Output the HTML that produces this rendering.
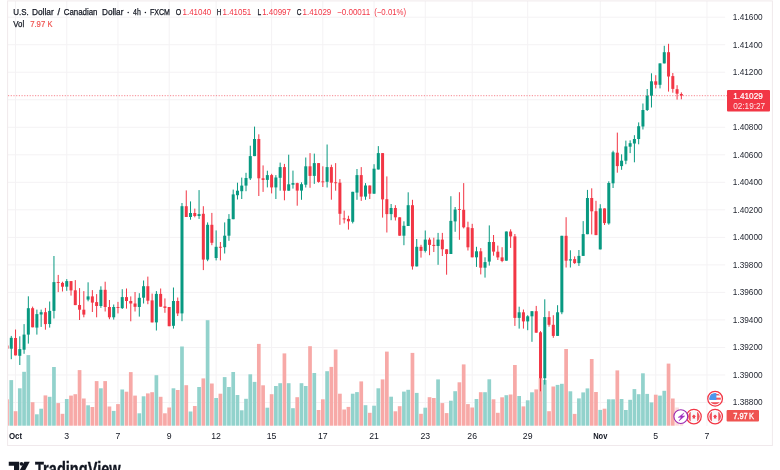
<!DOCTYPE html>
<html><head><meta charset="utf-8"><title>USDCAD</title>
<style>html,body{margin:0;padding:0;background:#fff;}body{width:780px;height:470px;overflow:hidden;}svg{display:block;will-change:transform;}text{font-family:"Liberation Sans",sans-serif;}</style>
</head><body>
<svg width="780" height="470" viewBox="0 0 780 470">
<rect x="0" y="0" width="780" height="470" fill="#ffffff"/>
<defs><clipPath id="pane"><rect x="8" y="1" width="719" height="425"/></clipPath></defs>
<g stroke="#f4f2f4" stroke-width="1" fill="none">
<line x1="8" y1="17.2" x2="725.2" y2="17.2"/>
<line x1="8" y1="44.72" x2="725.2" y2="44.72"/>
<line x1="8" y1="72.24" x2="725.2" y2="72.24"/>
<line x1="8" y1="99.76" x2="725.2" y2="99.76"/>
<line x1="8" y1="127.28" x2="725.2" y2="127.28"/>
<line x1="8" y1="154.8" x2="725.2" y2="154.8"/>
<line x1="8" y1="182.32" x2="725.2" y2="182.32"/>
<line x1="8" y1="209.84" x2="725.2" y2="209.84"/>
<line x1="8" y1="237.36" x2="725.2" y2="237.36"/>
<line x1="8" y1="264.88" x2="725.2" y2="264.88"/>
<line x1="8" y1="292.4" x2="725.2" y2="292.4"/>
<line x1="8" y1="319.92" x2="725.2" y2="319.92"/>
<line x1="8" y1="347.44" x2="725.2" y2="347.44"/>
<line x1="8" y1="374.96" x2="725.2" y2="374.96"/>
<line x1="8" y1="402.48" x2="725.2" y2="402.48"/>
<line x1="15.54" y1="1" x2="15.54" y2="426"/>
<line x1="66.75" y1="1" x2="66.75" y2="426"/>
<line x1="117.97" y1="1" x2="117.97" y2="426"/>
<line x1="169.18" y1="1" x2="169.18" y2="426"/>
<line x1="216.13" y1="1" x2="216.13" y2="426"/>
<line x1="271.62" y1="1" x2="271.62" y2="426"/>
<line x1="322.83" y1="1" x2="322.83" y2="426"/>
<line x1="374.05" y1="1" x2="374.05" y2="426"/>
<line x1="425.26" y1="1" x2="425.26" y2="426"/>
<line x1="472.21" y1="1" x2="472.21" y2="426"/>
<line x1="527.7" y1="1" x2="527.7" y2="426"/>
<line x1="600.25" y1="1" x2="600.25" y2="426"/>
<line x1="655.74" y1="1" x2="655.74" y2="426"/>
<line x1="706.95" y1="1" x2="706.95" y2="426"/>
</g>
<rect x="7.6" y="0.9" width="764.8" height="444.6" fill="none" stroke="#f0e9ec" stroke-width="1"/>
<g clip-path="url(#pane)">
<rect x="5.15" y="399.3" width="3.7" height="26.4" fill="#f7a9a7"/>
<rect x="9.42" y="380.1" width="3.7" height="45.6" fill="#92d2cc"/>
<rect x="13.69" y="411.2" width="3.7" height="14.5" fill="#f7a9a7"/>
<rect x="17.95" y="388.3" width="3.7" height="37.4" fill="#92d2cc"/>
<rect x="22.22" y="371.8" width="3.7" height="53.9" fill="#92d2cc"/>
<rect x="26.49" y="355.1" width="3.7" height="70.6" fill="#92d2cc"/>
<rect x="30.76" y="402.2" width="3.7" height="23.5" fill="#f7a9a7"/>
<rect x="35.03" y="414.3" width="3.7" height="11.4" fill="#92d2cc"/>
<rect x="39.29" y="408.7" width="3.7" height="17" fill="#92d2cc"/>
<rect x="43.56" y="395.4" width="3.7" height="30.3" fill="#f7a9a7"/>
<rect x="47.83" y="396.8" width="3.7" height="28.9" fill="#92d2cc"/>
<rect x="52.1" y="367" width="3.7" height="58.7" fill="#92d2cc"/>
<rect x="56.37" y="403.1" width="3.7" height="22.6" fill="#f7a9a7"/>
<rect x="60.63" y="413.8" width="3.7" height="11.9" fill="#f7a9a7"/>
<rect x="64.9" y="399" width="3.7" height="26.7" fill="#92d2cc"/>
<rect x="69.17" y="395.6" width="3.7" height="30.1" fill="#f7a9a7"/>
<rect x="73.44" y="394.2" width="3.7" height="31.5" fill="#f7a9a7"/>
<rect x="77.71" y="370.1" width="3.7" height="55.6" fill="#f7a9a7"/>
<rect x="81.97" y="398.5" width="3.7" height="27.2" fill="#f7a9a7"/>
<rect x="86.24" y="405.3" width="3.7" height="20.4" fill="#92d2cc"/>
<rect x="90.51" y="407" width="3.7" height="18.7" fill="#f7a9a7"/>
<rect x="94.78" y="381.1" width="3.7" height="44.6" fill="#f7a9a7"/>
<rect x="99.05" y="388.3" width="3.7" height="37.4" fill="#92d2cc"/>
<rect x="103.31" y="381.1" width="3.7" height="44.6" fill="#f7a9a7"/>
<rect x="107.58" y="406.5" width="3.7" height="19.2" fill="#f7a9a7"/>
<rect x="111.85" y="410.9" width="3.7" height="14.8" fill="#92d2cc"/>
<rect x="116.12" y="404.1" width="3.7" height="21.6" fill="#f7a9a7"/>
<rect x="120.39" y="389.5" width="3.7" height="36.2" fill="#92d2cc"/>
<rect x="124.65" y="391.7" width="3.7" height="34" fill="#f7a9a7"/>
<rect x="128.92" y="372.1" width="3.7" height="53.6" fill="#f7a9a7"/>
<rect x="133.19" y="395.6" width="3.7" height="30.1" fill="#f7a9a7"/>
<rect x="137.46" y="413.3" width="3.7" height="12.4" fill="#92d2cc"/>
<rect x="141.73" y="396.3" width="3.7" height="29.4" fill="#92d2cc"/>
<rect x="145.99" y="393.4" width="3.7" height="32.3" fill="#f7a9a7"/>
<rect x="150.26" y="392.2" width="3.7" height="33.5" fill="#f7a9a7"/>
<rect x="154.53" y="375.2" width="3.7" height="50.5" fill="#92d2cc"/>
<rect x="158.8" y="396.8" width="3.7" height="28.9" fill="#f7a9a7"/>
<rect x="163.07" y="413.3" width="3.7" height="12.4" fill="#f7a9a7"/>
<rect x="167.33" y="407.5" width="3.7" height="18.2" fill="#f7a9a7"/>
<rect x="171.6" y="388.3" width="3.7" height="37.4" fill="#92d2cc"/>
<rect x="175.87" y="390" width="3.7" height="35.7" fill="#f7a9a7"/>
<rect x="180.14" y="346.5" width="3.7" height="79.2" fill="#92d2cc"/>
<rect x="184.41" y="385.2" width="3.7" height="40.5" fill="#f7a9a7"/>
<rect x="188.67" y="411.5" width="3.7" height="14.2" fill="#92d2cc"/>
<rect x="192.94" y="406" width="3.7" height="19.7" fill="#f7a9a7"/>
<rect x="197.21" y="387" width="3.7" height="38.7" fill="#92d2cc"/>
<rect x="201.48" y="378.4" width="3.7" height="47.3" fill="#f7a9a7"/>
<rect x="205.75" y="320.2" width="3.7" height="105.5" fill="#92d2cc"/>
<rect x="210.01" y="383.5" width="3.7" height="42.2" fill="#f7a9a7"/>
<rect x="214.28" y="398" width="3.7" height="27.7" fill="#92d2cc"/>
<rect x="218.55" y="393.7" width="3.7" height="32" fill="#f7a9a7"/>
<rect x="222.82" y="377.1" width="3.7" height="48.6" fill="#92d2cc"/>
<rect x="227.09" y="387" width="3.7" height="38.7" fill="#92d2cc"/>
<rect x="231.35" y="372" width="3.7" height="53.7" fill="#92d2cc"/>
<rect x="235.62" y="395" width="3.7" height="30.7" fill="#92d2cc"/>
<rect x="239.89" y="410.3" width="3.7" height="15.4" fill="#92d2cc"/>
<rect x="244.16" y="398.8" width="3.7" height="26.9" fill="#92d2cc"/>
<rect x="248.43" y="374.3" width="3.7" height="51.4" fill="#92d2cc"/>
<rect x="252.69" y="381.9" width="3.7" height="43.8" fill="#92d2cc"/>
<rect x="256.96" y="343.9" width="3.7" height="81.8" fill="#f7a9a7"/>
<rect x="261.23" y="385.3" width="3.7" height="40.4" fill="#f7a9a7"/>
<rect x="265.5" y="407.7" width="3.7" height="18" fill="#92d2cc"/>
<rect x="269.77" y="394.2" width="3.7" height="31.5" fill="#f7a9a7"/>
<rect x="274.03" y="386" width="3.7" height="39.7" fill="#92d2cc"/>
<rect x="278.3" y="383.2" width="3.7" height="42.5" fill="#92d2cc"/>
<rect x="282.57" y="353.4" width="3.7" height="72.3" fill="#f7a9a7"/>
<rect x="286.84" y="383.2" width="3.7" height="42.5" fill="#92d2cc"/>
<rect x="291.11" y="408.2" width="3.7" height="17.5" fill="#92d2cc"/>
<rect x="295.37" y="397.2" width="3.7" height="28.5" fill="#f7a9a7"/>
<rect x="299.64" y="383.2" width="3.7" height="42.5" fill="#92d2cc"/>
<rect x="303.91" y="386" width="3.7" height="39.7" fill="#92d2cc"/>
<rect x="308.18" y="346.2" width="3.7" height="79.5" fill="#f7a9a7"/>
<rect x="312.45" y="373" width="3.7" height="52.7" fill="#92d2cc"/>
<rect x="316.71" y="410" width="3.7" height="15.7" fill="#f7a9a7"/>
<rect x="320.98" y="399.3" width="3.7" height="26.4" fill="#f7a9a7"/>
<rect x="325.25" y="371.2" width="3.7" height="54.5" fill="#92d2cc"/>
<rect x="329.52" y="366.9" width="3.7" height="58.8" fill="#f7a9a7"/>
<rect x="333.79" y="349.5" width="3.7" height="76.2" fill="#f7a9a7"/>
<rect x="338.05" y="393.7" width="3.7" height="32" fill="#f7a9a7"/>
<rect x="342.32" y="409.5" width="3.7" height="16.2" fill="#f7a9a7"/>
<rect x="346.59" y="406.9" width="3.7" height="18.8" fill="#f7a9a7"/>
<rect x="350.86" y="393.7" width="3.7" height="32" fill="#92d2cc"/>
<rect x="355.13" y="392.1" width="3.7" height="33.6" fill="#92d2cc"/>
<rect x="359.39" y="381.4" width="3.7" height="44.3" fill="#f7a9a7"/>
<rect x="363.66" y="405.2" width="3.7" height="20.5" fill="#92d2cc"/>
<rect x="367.93" y="412.8" width="3.7" height="12.9" fill="#f7a9a7"/>
<rect x="372.2" y="405.7" width="3.7" height="20" fill="#92d2cc"/>
<rect x="376.47" y="388.3" width="3.7" height="37.4" fill="#92d2cc"/>
<rect x="380.73" y="379.4" width="3.7" height="46.3" fill="#f7a9a7"/>
<rect x="385" y="351.6" width="3.7" height="74.1" fill="#f7a9a7"/>
<rect x="389.27" y="396.7" width="3.7" height="29" fill="#92d2cc"/>
<rect x="393.54" y="411.3" width="3.7" height="14.4" fill="#f7a9a7"/>
<rect x="397.81" y="406.2" width="3.7" height="19.5" fill="#f7a9a7"/>
<rect x="402.07" y="391.6" width="3.7" height="34.1" fill="#92d2cc"/>
<rect x="406.34" y="389.8" width="3.7" height="35.9" fill="#92d2cc"/>
<rect x="410.61" y="352.9" width="3.7" height="72.8" fill="#f7a9a7"/>
<rect x="414.88" y="392.9" width="3.7" height="32.8" fill="#92d2cc"/>
<rect x="419.15" y="413.8" width="3.7" height="11.9" fill="#f7a9a7"/>
<rect x="423.41" y="407.7" width="3.7" height="18" fill="#92d2cc"/>
<rect x="427.68" y="397.2" width="3.7" height="28.5" fill="#f7a9a7"/>
<rect x="431.95" y="398" width="3.7" height="27.7" fill="#f7a9a7"/>
<rect x="436.22" y="379.4" width="3.7" height="46.3" fill="#92d2cc"/>
<rect x="440.49" y="403.1" width="3.7" height="22.6" fill="#f7a9a7"/>
<rect x="444.75" y="413.1" width="3.7" height="12.6" fill="#f7a9a7"/>
<rect x="449.02" y="400.7" width="3.7" height="25" fill="#92d2cc"/>
<rect x="453.29" y="391.2" width="3.7" height="34.5" fill="#92d2cc"/>
<rect x="457.56" y="382.3" width="3.7" height="43.4" fill="#f7a9a7"/>
<rect x="461.83" y="364.4" width="3.7" height="61.3" fill="#f7a9a7"/>
<rect x="466.09" y="404.1" width="3.7" height="21.6" fill="#f7a9a7"/>
<rect x="470.36" y="407.5" width="3.7" height="18.2" fill="#f7a9a7"/>
<rect x="474.63" y="399" width="3.7" height="26.7" fill="#92d2cc"/>
<rect x="478.9" y="392.2" width="3.7" height="33.5" fill="#f7a9a7"/>
<rect x="483.17" y="392.2" width="3.7" height="33.5" fill="#92d2cc"/>
<rect x="487.43" y="379.3" width="3.7" height="46.4" fill="#92d2cc"/>
<rect x="491.7" y="399.3" width="3.7" height="26.4" fill="#f7a9a7"/>
<rect x="495.97" y="412.8" width="3.7" height="12.9" fill="#f7a9a7"/>
<rect x="500.24" y="397.3" width="3.7" height="28.4" fill="#f7a9a7"/>
<rect x="504.51" y="395.2" width="3.7" height="30.5" fill="#92d2cc"/>
<rect x="508.77" y="394.5" width="3.7" height="31.2" fill="#f7a9a7"/>
<rect x="513.04" y="365" width="3.7" height="60.7" fill="#f7a9a7"/>
<rect x="517.31" y="396" width="3.7" height="29.7" fill="#92d2cc"/>
<rect x="521.58" y="406.4" width="3.7" height="19.3" fill="#f7a9a7"/>
<rect x="525.85" y="400.3" width="3.7" height="25.4" fill="#92d2cc"/>
<rect x="530.11" y="392.3" width="3.7" height="33.4" fill="#92d2cc"/>
<rect x="534.38" y="389.4" width="3.7" height="36.3" fill="#f7a9a7"/>
<rect x="538.65" y="378" width="3.7" height="47.7" fill="#f7a9a7"/>
<rect x="542.92" y="380" width="3.7" height="45.7" fill="#92d2cc"/>
<rect x="547.19" y="411.2" width="3.7" height="14.5" fill="#f7a9a7"/>
<rect x="551.45" y="386.5" width="3.7" height="39.2" fill="#f7a9a7"/>
<rect x="555.72" y="384.9" width="3.7" height="40.8" fill="#92d2cc"/>
<rect x="559.99" y="383.8" width="3.7" height="41.9" fill="#92d2cc"/>
<rect x="564.26" y="349" width="3.7" height="76.7" fill="#f7a9a7"/>
<rect x="568.53" y="391.3" width="3.7" height="34.4" fill="#92d2cc"/>
<rect x="572.79" y="413.9" width="3.7" height="11.8" fill="#f7a9a7"/>
<rect x="577.06" y="398.4" width="3.7" height="27.3" fill="#92d2cc"/>
<rect x="581.33" y="392.4" width="3.7" height="33.3" fill="#92d2cc"/>
<rect x="585.6" y="388.4" width="3.7" height="37.3" fill="#92d2cc"/>
<rect x="589.87" y="359" width="3.7" height="66.7" fill="#f7a9a7"/>
<rect x="594.13" y="392" width="3.7" height="33.7" fill="#f7a9a7"/>
<rect x="598.4" y="409.9" width="3.7" height="15.8" fill="#92d2cc"/>
<rect x="602.67" y="408.7" width="3.7" height="17" fill="#f7a9a7"/>
<rect x="606.94" y="399.3" width="3.7" height="26.4" fill="#92d2cc"/>
<rect x="611.21" y="399.3" width="3.7" height="26.4" fill="#92d2cc"/>
<rect x="615.47" y="370.4" width="3.7" height="55.3" fill="#f7a9a7"/>
<rect x="619.74" y="399" width="3.7" height="26.7" fill="#92d2cc"/>
<rect x="624.01" y="410" width="3.7" height="15.7" fill="#92d2cc"/>
<rect x="628.28" y="399.8" width="3.7" height="25.9" fill="#92d2cc"/>
<rect x="632.55" y="389.1" width="3.7" height="36.6" fill="#92d2cc"/>
<rect x="636.81" y="394.2" width="3.7" height="31.5" fill="#92d2cc"/>
<rect x="641.08" y="373.3" width="3.7" height="52.4" fill="#92d2cc"/>
<rect x="645.35" y="393.9" width="3.7" height="31.8" fill="#92d2cc"/>
<rect x="649.62" y="402.4" width="3.7" height="23.3" fill="#92d2cc"/>
<rect x="653.89" y="394.7" width="3.7" height="31" fill="#f7a9a7"/>
<rect x="658.15" y="395.6" width="3.7" height="30.1" fill="#92d2cc"/>
<rect x="662.42" y="390.8" width="3.7" height="34.9" fill="#92d2cc"/>
<rect x="666.69" y="363.6" width="3.7" height="62.1" fill="#f7a9a7"/>
<rect x="670.96" y="398.5" width="3.7" height="27.2" fill="#f7a9a7"/>
<rect x="675.23" y="407.5" width="3.7" height="18.2" fill="#fbdcdb"/>
<rect x="679.49" y="415.7" width="3.7" height="10" fill="#fbdcdb"/>
</g>
<line x1="8" y1="95.7" x2="727" y2="95.7" stroke="#f23645" stroke-width="1" stroke-dasharray="1.2 1.5" opacity="0.6"/>
<g clip-path="url(#pane)">
<rect x="6.5" y="345.5" width="1" height="3.2" fill="#f23645"/>
<rect x="5.5" y="345.5" width="3" height="3.2" fill="#f23645"/>
<rect x="10.77" y="335.9" width="1" height="23.3" fill="#089981"/>
<rect x="9.77" y="337.8" width="3" height="10.9" fill="#089981"/>
<rect x="15.04" y="329.5" width="1" height="25.9" fill="#f23645"/>
<rect x="14.04" y="338" width="3" height="17.4" fill="#f23645"/>
<rect x="19.3" y="336.3" width="1" height="28.7" fill="#089981"/>
<rect x="18.3" y="349.1" width="3" height="6.7" fill="#089981"/>
<rect x="23.57" y="324.1" width="1" height="29.7" fill="#089981"/>
<rect x="22.57" y="334.6" width="3" height="15.1" fill="#089981"/>
<rect x="27.84" y="296.3" width="1" height="47.3" fill="#089981"/>
<rect x="26.84" y="308.2" width="3" height="26.4" fill="#089981"/>
<rect x="32.11" y="306.6" width="1" height="20.7" fill="#f23645"/>
<rect x="31.11" y="308.2" width="3" height="19.1" fill="#f23645"/>
<rect x="36.38" y="309.6" width="1" height="25" fill="#089981"/>
<rect x="35.38" y="314.1" width="3" height="13.5" fill="#089981"/>
<rect x="40.64" y="309.6" width="1" height="17.3" fill="#089981"/>
<rect x="39.64" y="312.2" width="3" height="2.3" fill="#089981"/>
<rect x="44.91" y="307.9" width="1" height="21.8" fill="#f23645"/>
<rect x="43.91" y="312.2" width="3" height="11.9" fill="#f23645"/>
<rect x="49.18" y="301.5" width="1" height="26.1" fill="#089981"/>
<rect x="48.18" y="310.9" width="3" height="13.1" fill="#089981"/>
<rect x="53.45" y="256" width="1" height="62.5" fill="#089981"/>
<rect x="52.45" y="282.1" width="3" height="28.8" fill="#089981"/>
<rect x="57.72" y="274.9" width="1" height="17.2" fill="#f23645"/>
<rect x="56.72" y="282" width="3" height="0.9" fill="#f23645"/>
<rect x="61.98" y="281.7" width="1" height="9.8" fill="#f23645"/>
<rect x="60.98" y="282.9" width="3" height="3.8" fill="#f23645"/>
<rect x="66.25" y="279.1" width="1" height="11.7" fill="#089981"/>
<rect x="65.25" y="281.1" width="3" height="5.6" fill="#089981"/>
<rect x="70.52" y="281.1" width="1" height="14.5" fill="#f23645"/>
<rect x="69.52" y="281.1" width="3" height="9.3" fill="#f23645"/>
<rect x="74.79" y="280.1" width="1" height="25" fill="#f23645"/>
<rect x="73.79" y="290.3" width="3" height="14.8" fill="#f23645"/>
<rect x="79.06" y="288.1" width="1" height="31.9" fill="#f23645"/>
<rect x="78.06" y="305" width="3" height="4.7" fill="#f23645"/>
<rect x="83.32" y="291.1" width="1" height="26.2" fill="#f23645"/>
<rect x="82.32" y="309.7" width="3" height="4.9" fill="#f23645"/>
<rect x="87.59" y="282.3" width="1" height="19" fill="#089981"/>
<rect x="86.59" y="296.4" width="3" height="3.2" fill="#089981"/>
<rect x="91.86" y="290.1" width="1" height="21.9" fill="#f23645"/>
<rect x="90.86" y="296.4" width="3" height="6.2" fill="#f23645"/>
<rect x="96.13" y="294.1" width="1" height="23.2" fill="#f23645"/>
<rect x="95.13" y="302.1" width="3" height="3.9" fill="#f23645"/>
<rect x="100.4" y="286.3" width="1" height="21.6" fill="#089981"/>
<rect x="99.4" y="289.8" width="3" height="16.2" fill="#089981"/>
<rect x="104.66" y="281.7" width="1" height="29.8" fill="#f23645"/>
<rect x="103.66" y="289.8" width="3" height="17.2" fill="#f23645"/>
<rect x="108.93" y="300" width="1" height="19.2" fill="#f23645"/>
<rect x="107.93" y="307" width="3" height="10.3" fill="#f23645"/>
<rect x="113.2" y="304.5" width="1" height="15.1" fill="#089981"/>
<rect x="112.2" y="307" width="3" height="10.3" fill="#089981"/>
<rect x="117.47" y="301.9" width="1" height="11.5" fill="#f23645"/>
<rect x="116.47" y="307" width="3" height="0.9" fill="#f23645"/>
<rect x="121.74" y="289.2" width="1" height="19.8" fill="#089981"/>
<rect x="120.74" y="297.1" width="3" height="11" fill="#089981"/>
<rect x="126" y="288.5" width="1" height="20.1" fill="#f23645"/>
<rect x="125" y="297.1" width="3" height="3.9" fill="#f23645"/>
<rect x="130.27" y="296.4" width="1" height="24.9" fill="#f23645"/>
<rect x="129.27" y="301" width="3" height="2.5" fill="#f23645"/>
<rect x="134.54" y="292" width="1" height="19.5" fill="#f23645"/>
<rect x="133.54" y="303.5" width="3" height="3.3" fill="#f23645"/>
<rect x="138.81" y="293.2" width="1" height="23.4" fill="#089981"/>
<rect x="137.81" y="297.8" width="3" height="9.2" fill="#089981"/>
<rect x="143.08" y="280.5" width="1" height="23" fill="#089981"/>
<rect x="142.08" y="286.2" width="3" height="11.5" fill="#089981"/>
<rect x="147.34" y="276.6" width="1" height="27.6" fill="#f23645"/>
<rect x="146.34" y="286.2" width="3" height="14.5" fill="#f23645"/>
<rect x="151.61" y="293.6" width="1" height="28.8" fill="#f23645"/>
<rect x="150.61" y="300.4" width="3" height="22" fill="#f23645"/>
<rect x="155.88" y="291.1" width="1" height="39.4" fill="#089981"/>
<rect x="154.88" y="293.9" width="3" height="28.5" fill="#089981"/>
<rect x="160.15" y="288.5" width="1" height="18.2" fill="#f23645"/>
<rect x="159.15" y="293.9" width="3" height="12.8" fill="#f23645"/>
<rect x="164.42" y="298.4" width="1" height="14.4" fill="#f23645"/>
<rect x="163.42" y="306.4" width="3" height="1.5" fill="#f23645"/>
<rect x="168.68" y="307" width="1" height="19.2" fill="#f23645"/>
<rect x="167.68" y="307" width="3" height="19.2" fill="#f23645"/>
<rect x="172.95" y="287.5" width="1" height="41.1" fill="#089981"/>
<rect x="171.95" y="301" width="3" height="24.8" fill="#089981"/>
<rect x="177.22" y="297.5" width="1" height="18.5" fill="#f23645"/>
<rect x="176.22" y="301" width="3" height="12.4" fill="#f23645"/>
<rect x="181.49" y="203" width="1" height="118.2" fill="#089981"/>
<rect x="180.49" y="206.2" width="3" height="107.2" fill="#089981"/>
<rect x="185.76" y="190.4" width="1" height="26.6" fill="#f23645"/>
<rect x="184.76" y="206.2" width="3" height="10.8" fill="#f23645"/>
<rect x="190.02" y="201.4" width="1" height="18.3" fill="#089981"/>
<rect x="189.02" y="213" width="3" height="4" fill="#089981"/>
<rect x="194.29" y="208.6" width="1" height="8.7" fill="#f23645"/>
<rect x="193.29" y="213" width="3" height="3" fill="#f23645"/>
<rect x="198.56" y="190.1" width="1" height="28.8" fill="#089981"/>
<rect x="197.56" y="214.1" width="3" height="1.9" fill="#089981"/>
<rect x="202.83" y="206.2" width="1" height="63.9" fill="#f23645"/>
<rect x="201.83" y="213.8" width="3" height="45.8" fill="#f23645"/>
<rect x="207.1" y="222.4" width="1" height="38.8" fill="#089981"/>
<rect x="206.1" y="224.8" width="3" height="34.8" fill="#089981"/>
<rect x="211.36" y="212.9" width="1" height="32.3" fill="#f23645"/>
<rect x="210.36" y="224.8" width="3" height="18" fill="#f23645"/>
<rect x="215.63" y="230.4" width="1" height="30" fill="#089981"/>
<rect x="214.63" y="246.8" width="3" height="11.2" fill="#089981"/>
<rect x="219.9" y="242" width="1" height="18.4" fill="#f23645"/>
<rect x="218.9" y="246.8" width="3" height="0.9" fill="#f23645"/>
<rect x="224.17" y="222.4" width="1" height="31.1" fill="#089981"/>
<rect x="223.17" y="235.7" width="3" height="11.5" fill="#089981"/>
<rect x="228.44" y="214.1" width="1" height="26.7" fill="#089981"/>
<rect x="227.44" y="218.9" width="3" height="16.8" fill="#089981"/>
<rect x="232.7" y="189.6" width="1" height="29.6" fill="#089981"/>
<rect x="231.7" y="194.4" width="3" height="24.8" fill="#089981"/>
<rect x="236.97" y="182.7" width="1" height="16.8" fill="#089981"/>
<rect x="235.97" y="190.7" width="3" height="4.5" fill="#089981"/>
<rect x="241.24" y="177.6" width="1" height="21.4" fill="#089981"/>
<rect x="240.24" y="185.6" width="3" height="5.6" fill="#089981"/>
<rect x="245.51" y="172.8" width="1" height="18.4" fill="#089981"/>
<rect x="244.51" y="178" width="3" height="7.6" fill="#089981"/>
<rect x="249.78" y="145.7" width="1" height="34.3" fill="#089981"/>
<rect x="248.78" y="156.1" width="3" height="22.3" fill="#089981"/>
<rect x="254.04" y="126.6" width="1" height="29.5" fill="#089981"/>
<rect x="253.04" y="139" width="3" height="17.1" fill="#089981"/>
<rect x="258.31" y="134.3" width="1" height="61.7" fill="#f23645"/>
<rect x="257.31" y="139" width="3" height="39.3" fill="#f23645"/>
<rect x="262.58" y="165.4" width="1" height="26.5" fill="#f23645"/>
<rect x="261.58" y="178.3" width="3" height="1.6" fill="#f23645"/>
<rect x="266.85" y="170.7" width="1" height="16.7" fill="#089981"/>
<rect x="265.85" y="175.1" width="3" height="4.8" fill="#089981"/>
<rect x="271.12" y="173.8" width="1" height="19.6" fill="#f23645"/>
<rect x="270.12" y="175.1" width="3" height="12.3" fill="#f23645"/>
<rect x="275.38" y="175.1" width="1" height="23.9" fill="#089981"/>
<rect x="274.38" y="177.5" width="3" height="9.9" fill="#089981"/>
<rect x="279.65" y="162.6" width="1" height="28.1" fill="#089981"/>
<rect x="278.65" y="167.1" width="3" height="10.7" fill="#089981"/>
<rect x="283.92" y="163.9" width="1" height="36.4" fill="#f23645"/>
<rect x="282.92" y="167.1" width="3" height="23.6" fill="#f23645"/>
<rect x="288.19" y="154.7" width="1" height="36" fill="#089981"/>
<rect x="287.19" y="184.3" width="3" height="6.4" fill="#089981"/>
<rect x="292.46" y="170.6" width="1" height="18" fill="#089981"/>
<rect x="291.46" y="183.1" width="3" height="1.6" fill="#089981"/>
<rect x="296.72" y="182.7" width="1" height="23" fill="#f23645"/>
<rect x="295.72" y="183.1" width="3" height="7.5" fill="#f23645"/>
<rect x="300.99" y="182.3" width="1" height="17.5" fill="#089981"/>
<rect x="299.99" y="184.2" width="3" height="6.4" fill="#089981"/>
<rect x="305.26" y="157.5" width="1" height="30" fill="#089981"/>
<rect x="304.26" y="166.3" width="3" height="18.4" fill="#089981"/>
<rect x="309.53" y="153.1" width="1" height="34.7" fill="#f23645"/>
<rect x="308.53" y="166.3" width="3" height="9.6" fill="#f23645"/>
<rect x="313.8" y="153.6" width="1" height="30.3" fill="#089981"/>
<rect x="312.8" y="163.1" width="3" height="12.8" fill="#089981"/>
<rect x="318.06" y="163.1" width="1" height="19.6" fill="#f23645"/>
<rect x="317.06" y="163.1" width="3" height="18.8" fill="#f23645"/>
<rect x="322.33" y="166.3" width="1" height="20.7" fill="#f23645"/>
<rect x="321.33" y="181.4" width="3" height="0.9" fill="#f23645"/>
<rect x="326.6" y="144.5" width="1" height="43" fill="#089981"/>
<rect x="325.6" y="167.1" width="3" height="14.7" fill="#089981"/>
<rect x="330.87" y="164.7" width="1" height="35" fill="#f23645"/>
<rect x="329.87" y="167.1" width="3" height="15.6" fill="#f23645"/>
<rect x="335.14" y="163.1" width="1" height="27.6" fill="#f23645"/>
<rect x="334.14" y="182.3" width="3" height="0.9" fill="#f23645"/>
<rect x="339.4" y="179.1" width="1" height="45.7" fill="#f23645"/>
<rect x="338.4" y="182.7" width="3" height="31.1" fill="#f23645"/>
<rect x="343.67" y="210.6" width="1" height="12.8" fill="#f23645"/>
<rect x="342.67" y="218.4" width="3" height="1" fill="#f23645"/>
<rect x="347.94" y="215.7" width="1" height="13.9" fill="#f23645"/>
<rect x="346.94" y="218.9" width="3" height="2.4" fill="#f23645"/>
<rect x="352.21" y="191.8" width="1" height="31.6" fill="#089981"/>
<rect x="351.21" y="191.8" width="3" height="30" fill="#089981"/>
<rect x="356.48" y="169" width="1" height="30.8" fill="#089981"/>
<rect x="355.48" y="175.1" width="3" height="17.5" fill="#089981"/>
<rect x="360.74" y="167.1" width="1" height="33.8" fill="#f23645"/>
<rect x="359.74" y="175.1" width="3" height="21.5" fill="#f23645"/>
<rect x="365.01" y="183.1" width="1" height="16.7" fill="#089981"/>
<rect x="364.01" y="185.5" width="3" height="11.1" fill="#089981"/>
<rect x="369.28" y="185.5" width="1" height="13.5" fill="#f23645"/>
<rect x="368.28" y="185.5" width="3" height="8.2" fill="#f23645"/>
<rect x="373.55" y="164.2" width="1" height="29.5" fill="#089981"/>
<rect x="372.55" y="168.7" width="3" height="25" fill="#089981"/>
<rect x="377.82" y="146.1" width="1" height="23.4" fill="#089981"/>
<rect x="376.82" y="153.1" width="3" height="16.4" fill="#089981"/>
<rect x="382.08" y="153.1" width="1" height="64.5" fill="#f23645"/>
<rect x="381.08" y="153.1" width="3" height="46.3" fill="#f23645"/>
<rect x="386.35" y="176.4" width="1" height="56.1" fill="#f23645"/>
<rect x="385.35" y="199.2" width="3" height="14.9" fill="#f23645"/>
<rect x="390.62" y="204" width="1" height="16.2" fill="#089981"/>
<rect x="389.62" y="208" width="3" height="6.1" fill="#089981"/>
<rect x="394.89" y="205.2" width="1" height="15.3" fill="#f23645"/>
<rect x="393.89" y="208" width="3" height="9.3" fill="#f23645"/>
<rect x="399.16" y="217.3" width="1" height="18.4" fill="#f23645"/>
<rect x="398.16" y="217.3" width="3" height="18.4" fill="#f23645"/>
<rect x="403.42" y="221.3" width="1" height="23.9" fill="#089981"/>
<rect x="402.42" y="225.8" width="3" height="9.9" fill="#089981"/>
<rect x="407.69" y="192.3" width="1" height="33.7" fill="#089981"/>
<rect x="406.69" y="205.2" width="3" height="20.8" fill="#089981"/>
<rect x="411.96" y="199.8" width="1" height="69.8" fill="#f23645"/>
<rect x="410.96" y="205.2" width="3" height="61.2" fill="#f23645"/>
<rect x="416.23" y="239" width="1" height="27.4" fill="#089981"/>
<rect x="415.23" y="246.8" width="3" height="19.6" fill="#089981"/>
<rect x="420.5" y="244.8" width="1" height="12.8" fill="#f23645"/>
<rect x="419.5" y="246.8" width="3" height="4.1" fill="#f23645"/>
<rect x="424.76" y="230.5" width="1" height="22" fill="#089981"/>
<rect x="423.76" y="239.6" width="3" height="11.3" fill="#089981"/>
<rect x="429.03" y="237.7" width="1" height="17.5" fill="#f23645"/>
<rect x="428.03" y="239.6" width="3" height="5.3" fill="#f23645"/>
<rect x="433.3" y="237.7" width="1" height="14.3" fill="#f23645"/>
<rect x="432.3" y="244.9" width="3" height="1" fill="#f23645"/>
<rect x="437.57" y="232.9" width="1" height="31.9" fill="#089981"/>
<rect x="436.57" y="239.6" width="3" height="6.4" fill="#089981"/>
<rect x="441.84" y="232.9" width="1" height="23.1" fill="#f23645"/>
<rect x="440.84" y="239.6" width="3" height="9.7" fill="#f23645"/>
<rect x="446.1" y="249.3" width="1" height="25.4" fill="#f23645"/>
<rect x="445.1" y="249.3" width="3" height="4.7" fill="#f23645"/>
<rect x="450.37" y="196.2" width="1" height="57.8" fill="#089981"/>
<rect x="449.37" y="220.9" width="3" height="33.1" fill="#089981"/>
<rect x="454.64" y="207" width="1" height="24.8" fill="#089981"/>
<rect x="453.64" y="209.5" width="3" height="11.9" fill="#089981"/>
<rect x="458.91" y="192.2" width="1" height="47.6" fill="#f23645"/>
<rect x="457.91" y="209" width="3" height="0.9" fill="#f23645"/>
<rect x="463.18" y="183.1" width="1" height="45.3" fill="#f23645"/>
<rect x="462.18" y="209.8" width="3" height="17.5" fill="#f23645"/>
<rect x="467.44" y="221.7" width="1" height="28.8" fill="#f23645"/>
<rect x="466.44" y="227.3" width="3" height="20" fill="#f23645"/>
<rect x="471.71" y="223.8" width="1" height="33.5" fill="#f23645"/>
<rect x="470.71" y="228.1" width="3" height="29.2" fill="#f23645"/>
<rect x="475.98" y="246.8" width="1" height="20.1" fill="#089981"/>
<rect x="474.98" y="251.3" width="3" height="6" fill="#089981"/>
<rect x="480.25" y="248.1" width="1" height="26.3" fill="#f23645"/>
<rect x="479.25" y="251.3" width="3" height="16.4" fill="#f23645"/>
<rect x="484.52" y="257.3" width="1" height="20.3" fill="#089981"/>
<rect x="483.52" y="262.1" width="3" height="5.6" fill="#089981"/>
<rect x="488.78" y="225.4" width="1" height="40.2" fill="#089981"/>
<rect x="487.78" y="242" width="3" height="19.6" fill="#089981"/>
<rect x="493.05" y="235" width="1" height="20.7" fill="#f23645"/>
<rect x="492.05" y="242" width="3" height="9.6" fill="#f23645"/>
<rect x="497.32" y="245.6" width="1" height="14.4" fill="#f23645"/>
<rect x="496.32" y="251.7" width="3" height="5.7" fill="#f23645"/>
<rect x="501.59" y="247.2" width="1" height="15" fill="#f23645"/>
<rect x="500.59" y="257.4" width="3" height="3.6" fill="#f23645"/>
<rect x="505.86" y="231.5" width="1" height="29.2" fill="#089981"/>
<rect x="504.86" y="231.5" width="3" height="29.2" fill="#089981"/>
<rect x="510.12" y="229.3" width="1" height="18.6" fill="#f23645"/>
<rect x="509.12" y="231.5" width="3" height="4.9" fill="#f23645"/>
<rect x="514.39" y="234" width="1" height="91.9" fill="#f23645"/>
<rect x="513.39" y="236.4" width="3" height="81.5" fill="#f23645"/>
<rect x="518.66" y="306.7" width="1" height="21.9" fill="#089981"/>
<rect x="517.66" y="312.3" width="3" height="5.6" fill="#089981"/>
<rect x="522.93" y="309.5" width="1" height="19.1" fill="#f23645"/>
<rect x="521.93" y="312.3" width="3" height="9.1" fill="#f23645"/>
<rect x="527.2" y="315.2" width="1" height="15" fill="#089981"/>
<rect x="526.2" y="316.3" width="3" height="5.1" fill="#089981"/>
<rect x="531.46" y="311.2" width="1" height="30.6" fill="#089981"/>
<rect x="530.46" y="311.2" width="3" height="5.1" fill="#089981"/>
<rect x="535.73" y="305.9" width="1" height="26.8" fill="#f23645"/>
<rect x="534.73" y="311.2" width="3" height="21.5" fill="#f23645"/>
<rect x="540" y="331.1" width="1" height="60.2" fill="#f23645"/>
<rect x="539" y="332.3" width="3" height="45.9" fill="#f23645"/>
<rect x="544.27" y="299.3" width="1" height="85.3" fill="#089981"/>
<rect x="543.27" y="317.1" width="3" height="61.1" fill="#089981"/>
<rect x="548.54" y="311.2" width="1" height="15.5" fill="#f23645"/>
<rect x="547.54" y="317.1" width="3" height="7.7" fill="#f23645"/>
<rect x="552.8" y="315.2" width="1" height="22.6" fill="#f23645"/>
<rect x="551.8" y="324.8" width="3" height="11.1" fill="#f23645"/>
<rect x="557.07" y="305.2" width="1" height="30.7" fill="#089981"/>
<rect x="556.07" y="312.3" width="3" height="23.6" fill="#089981"/>
<rect x="561.34" y="235.8" width="1" height="78.4" fill="#089981"/>
<rect x="560.34" y="235.8" width="3" height="76.5" fill="#089981"/>
<rect x="565.61" y="217.2" width="1" height="50.3" fill="#f23645"/>
<rect x="564.61" y="235.8" width="3" height="24.9" fill="#f23645"/>
<rect x="569.88" y="250.3" width="1" height="17.2" fill="#089981"/>
<rect x="568.88" y="259.3" width="3" height="1.2" fill="#089981"/>
<rect x="574.14" y="256.4" width="1" height="7.5" fill="#f23645"/>
<rect x="573.14" y="259.1" width="3" height="4" fill="#f23645"/>
<rect x="578.41" y="250" width="1" height="15.9" fill="#089981"/>
<rect x="577.41" y="255.9" width="3" height="7.2" fill="#089981"/>
<rect x="582.68" y="221.1" width="1" height="34.8" fill="#089981"/>
<rect x="581.68" y="234.1" width="3" height="21.8" fill="#089981"/>
<rect x="586.95" y="189.9" width="1" height="44.3" fill="#089981"/>
<rect x="585.95" y="198" width="3" height="36.2" fill="#089981"/>
<rect x="591.22" y="188.3" width="1" height="46.1" fill="#f23645"/>
<rect x="590.22" y="198" width="3" height="13.3" fill="#f23645"/>
<rect x="595.48" y="200.8" width="1" height="34.3" fill="#f23645"/>
<rect x="594.48" y="211.2" width="3" height="23.9" fill="#f23645"/>
<rect x="599.75" y="204.2" width="1" height="45.2" fill="#089981"/>
<rect x="598.75" y="208.4" width="3" height="41" fill="#089981"/>
<rect x="604.02" y="208.4" width="1" height="16.6" fill="#f23645"/>
<rect x="603.02" y="208.4" width="3" height="14.7" fill="#f23645"/>
<rect x="608.29" y="181.3" width="1" height="43.4" fill="#089981"/>
<rect x="607.29" y="183" width="3" height="40.4" fill="#089981"/>
<rect x="612.56" y="150.7" width="1" height="37.3" fill="#089981"/>
<rect x="611.56" y="152.3" width="3" height="31" fill="#089981"/>
<rect x="616.82" y="132.6" width="1" height="40.1" fill="#f23645"/>
<rect x="615.82" y="152.7" width="3" height="13.4" fill="#f23645"/>
<rect x="621.09" y="154.3" width="1" height="15.5" fill="#089981"/>
<rect x="620.09" y="160.7" width="3" height="5.4" fill="#089981"/>
<rect x="625.36" y="140.6" width="1" height="23.6" fill="#089981"/>
<rect x="624.36" y="146.4" width="3" height="14.3" fill="#089981"/>
<rect x="629.63" y="140.3" width="1" height="12.8" fill="#089981"/>
<rect x="628.63" y="143.2" width="3" height="3.5" fill="#089981"/>
<rect x="633.9" y="135.2" width="1" height="27.1" fill="#089981"/>
<rect x="632.9" y="139" width="3" height="4.5" fill="#089981"/>
<rect x="638.16" y="122.4" width="1" height="21.9" fill="#089981"/>
<rect x="637.16" y="126.2" width="3" height="12.8" fill="#089981"/>
<rect x="642.43" y="103.5" width="1" height="26" fill="#089981"/>
<rect x="641.43" y="110" width="3" height="16.5" fill="#089981"/>
<rect x="646.7" y="89" width="1" height="22" fill="#089981"/>
<rect x="645.7" y="95.7" width="3" height="14.3" fill="#089981"/>
<rect x="650.97" y="73.3" width="1" height="34.2" fill="#089981"/>
<rect x="649.97" y="81.3" width="3" height="14.4" fill="#089981"/>
<rect x="655.24" y="75.2" width="1" height="13.2" fill="#f23645"/>
<rect x="654.24" y="81.3" width="3" height="3.5" fill="#f23645"/>
<rect x="659.5" y="63.4" width="1" height="25" fill="#089981"/>
<rect x="658.5" y="63.4" width="3" height="21.4" fill="#089981"/>
<rect x="663.77" y="45.8" width="1" height="17.6" fill="#089981"/>
<rect x="662.77" y="52.2" width="3" height="11.2" fill="#089981"/>
<rect x="668.04" y="43.8" width="1" height="47.8" fill="#f23645"/>
<rect x="667.04" y="52.2" width="3" height="24.3" fill="#f23645"/>
<rect x="672.31" y="73" width="1" height="19.7" fill="#f23645"/>
<rect x="671.31" y="76.1" width="3" height="12.8" fill="#f23645"/>
<rect x="676.58" y="85.2" width="1" height="14.4" fill="#f23645"/>
<rect x="675.58" y="89.2" width="3" height="4.5" fill="#f23645"/>
<rect x="680.84" y="92.4" width="1" height="6.9" fill="#f23645"/>
<rect x="679.84" y="94" width="3" height="1.6" fill="#f23645"/>
</g>
<text x="13.3" y="15.4" font-size="8.7" fill="#131722" font-weight="normal" text-anchor="start" textLength="15.4" lengthAdjust="spacingAndGlyphs" stroke="#131722" stroke-width="0.25">U.S.</text>
<text x="32" y="15.4" font-size="8.7" fill="#131722" font-weight="normal" text-anchor="start" textLength="21.7" lengthAdjust="spacingAndGlyphs" stroke="#131722" stroke-width="0.25">Dollar</text>
<text x="57.5" y="15.4" font-size="8.7" fill="#131722" font-weight="normal" text-anchor="start" textLength="2.6" lengthAdjust="spacingAndGlyphs" stroke="#131722" stroke-width="0.25">/</text>
<text x="63.7" y="15.4" font-size="8.7" fill="#131722" font-weight="normal" text-anchor="start" textLength="33.8" lengthAdjust="spacingAndGlyphs" stroke="#131722" stroke-width="0.25">Canadian</text>
<text x="102" y="15.4" font-size="8.7" fill="#131722" font-weight="normal" text-anchor="start" textLength="21.4" lengthAdjust="spacingAndGlyphs" stroke="#131722" stroke-width="0.25">Dollar</text>
<circle cx="128.2" cy="12.5" r="0.75" fill="#131722"/>
<text x="133" y="15.4" font-size="8.7" fill="#131722" font-weight="normal" text-anchor="start" textLength="7.8" lengthAdjust="spacingAndGlyphs" stroke="#131722" stroke-width="0.25">4h</text>
<circle cx="145.4" cy="12.5" r="0.75" fill="#131722"/>
<text x="150" y="15.4" font-size="8.7" fill="#131722" font-weight="normal" text-anchor="start" textLength="20" lengthAdjust="spacingAndGlyphs" stroke="#131722" stroke-width="0.25">FXCM</text>
<text x="175.8" y="15.4" font-size="8.7" fill="#131722" font-weight="normal" text-anchor="start" textLength="5.5" lengthAdjust="spacingAndGlyphs" stroke="#131722" stroke-width="0.25">O</text>
<text x="182.5" y="15.4" font-size="8.7" fill="#f23645" font-weight="normal" text-anchor="start" textLength="28.8" lengthAdjust="spacingAndGlyphs">1.41040</text>
<text x="216.7" y="15.4" font-size="8.7" fill="#131722" font-weight="normal" text-anchor="start" textLength="4.7" lengthAdjust="spacingAndGlyphs" stroke="#131722" stroke-width="0.25">H</text>
<text x="222.5" y="15.4" font-size="8.7" fill="#f23645" font-weight="normal" text-anchor="start" textLength="28.8" lengthAdjust="spacingAndGlyphs">1.41051</text>
<text x="257.5" y="15.4" font-size="8.7" fill="#131722" font-weight="normal" text-anchor="start" textLength="3.7" lengthAdjust="spacingAndGlyphs" stroke="#131722" stroke-width="0.25">L</text>
<text x="262.2" y="15.4" font-size="8.7" fill="#f23645" font-weight="normal" text-anchor="start" textLength="28.8" lengthAdjust="spacingAndGlyphs">1.40997</text>
<text x="296.7" y="15.4" font-size="8.7" fill="#131722" font-weight="normal" text-anchor="start" textLength="4.7" lengthAdjust="spacingAndGlyphs" stroke="#131722" stroke-width="0.25">C</text>
<text x="302.5" y="15.4" font-size="8.7" fill="#f23645" font-weight="normal" text-anchor="start" textLength="28.8" lengthAdjust="spacingAndGlyphs">1.41029</text>
<text x="337" y="15.4" font-size="8.7" fill="#f23645" font-weight="normal" text-anchor="start" textLength="33.2" lengthAdjust="spacingAndGlyphs">&#8722;0.00011</text>
<text x="374.2" y="15.4" font-size="8.7" fill="#f23645" font-weight="normal" text-anchor="start" textLength="32" lengthAdjust="spacingAndGlyphs">(&#8722;0.01%)</text>
<text x="13.3" y="27.1" font-size="8.7" fill="#131722" font-weight="normal" text-anchor="start" textLength="10.9" lengthAdjust="spacingAndGlyphs" stroke="#131722" stroke-width="0.25">Vol</text>
<text x="30.2" y="27.1" font-size="8.7" fill="#ef5350" font-weight="normal" text-anchor="start" textLength="15" lengthAdjust="spacingAndGlyphs" stroke="#ef5350" stroke-width="0.2">7.97</text>
<text x="47.6" y="27.1" font-size="8.7" fill="#ef5350" font-weight="normal" text-anchor="start" textLength="5" lengthAdjust="spacingAndGlyphs" stroke="#ef5350" stroke-width="0.2">K</text>
<text x="732.8" y="20.4" font-size="9.2" fill="#1e222d" font-weight="normal" text-anchor="start" textLength="29.8" lengthAdjust="spacingAndGlyphs">1.41600</text>
<text x="732.8" y="47.9" font-size="9.2" fill="#1e222d" font-weight="normal" text-anchor="start" textLength="29.8" lengthAdjust="spacingAndGlyphs">1.41400</text>
<text x="732.8" y="75.4" font-size="9.2" fill="#1e222d" font-weight="normal" text-anchor="start" textLength="29.8" lengthAdjust="spacingAndGlyphs">1.41200</text>
<text x="732.8" y="130.4" font-size="9.2" fill="#1e222d" font-weight="normal" text-anchor="start" textLength="29.8" lengthAdjust="spacingAndGlyphs">1.40800</text>
<text x="732.8" y="157.9" font-size="9.2" fill="#1e222d" font-weight="normal" text-anchor="start" textLength="29.8" lengthAdjust="spacingAndGlyphs">1.40600</text>
<text x="732.8" y="185.4" font-size="9.2" fill="#1e222d" font-weight="normal" text-anchor="start" textLength="29.8" lengthAdjust="spacingAndGlyphs">1.40400</text>
<text x="732.8" y="212.9" font-size="9.2" fill="#1e222d" font-weight="normal" text-anchor="start" textLength="29.8" lengthAdjust="spacingAndGlyphs">1.40200</text>
<text x="732.8" y="240.4" font-size="9.2" fill="#1e222d" font-weight="normal" text-anchor="start" textLength="29.8" lengthAdjust="spacingAndGlyphs">1.40000</text>
<text x="732.8" y="267.9" font-size="9.2" fill="#1e222d" font-weight="normal" text-anchor="start" textLength="29.8" lengthAdjust="spacingAndGlyphs">1.39800</text>
<text x="732.8" y="295.4" font-size="9.2" fill="#1e222d" font-weight="normal" text-anchor="start" textLength="29.8" lengthAdjust="spacingAndGlyphs">1.39600</text>
<text x="732.8" y="322.9" font-size="9.2" fill="#1e222d" font-weight="normal" text-anchor="start" textLength="29.8" lengthAdjust="spacingAndGlyphs">1.39400</text>
<text x="732.8" y="350.4" font-size="9.2" fill="#1e222d" font-weight="normal" text-anchor="start" textLength="29.8" lengthAdjust="spacingAndGlyphs">1.39200</text>
<text x="732.8" y="377.9" font-size="9.2" fill="#1e222d" font-weight="normal" text-anchor="start" textLength="29.8" lengthAdjust="spacingAndGlyphs">1.39000</text>
<text x="732.8" y="405.4" font-size="9.2" fill="#1e222d" font-weight="normal" text-anchor="start" textLength="29.8" lengthAdjust="spacingAndGlyphs">1.38800</text>
<rect x="727" y="90" width="43" height="21.6" rx="1" fill="#f23645"/>
<text x="733.2" y="99.3" font-size="8.7" fill="#ffffff" font-weight="normal" text-anchor="start" textLength="29.6" lengthAdjust="spacingAndGlyphs" stroke="#fff" stroke-width="0.2">1.41029</text>
<text x="733.2" y="108.5" font-size="8.7" fill="#ffffff" font-weight="normal" text-anchor="start" textLength="32" lengthAdjust="spacingAndGlyphs" opacity="0.88">02:19:27</text>
<rect x="726.6" y="410.1" width="32.4" height="11.3" rx="1" fill="#ef5350"/>
<text x="733.2" y="418.7" font-size="8.7" fill="#ffffff" font-weight="normal" text-anchor="start" textLength="14.5" lengthAdjust="spacingAndGlyphs" stroke="#fff" stroke-width="0.3">7.97</text>
<text x="749" y="418.7" font-size="8.7" fill="#ffffff" font-weight="normal" text-anchor="start" textLength="5" lengthAdjust="spacingAndGlyphs" stroke="#fff" stroke-width="0.3">K</text>
<text x="15.54" y="439.3" font-size="8.7" fill="#131722" font-weight="bold" text-anchor="middle" textLength="13.2" lengthAdjust="spacingAndGlyphs">Oct</text>
<text x="66.75" y="439.3" font-size="8.7" fill="#131722" font-weight="normal" text-anchor="middle">3</text>
<text x="117.97" y="439.3" font-size="8.7" fill="#131722" font-weight="normal" text-anchor="middle">7</text>
<text x="169.18" y="439.3" font-size="8.7" fill="#131722" font-weight="normal" text-anchor="middle">9</text>
<text x="216.13" y="439.3" font-size="8.7" fill="#131722" font-weight="normal" text-anchor="middle">12</text>
<text x="271.62" y="439.3" font-size="8.7" fill="#131722" font-weight="normal" text-anchor="middle">15</text>
<text x="322.83" y="439.3" font-size="8.7" fill="#131722" font-weight="normal" text-anchor="middle">17</text>
<text x="374.05" y="439.3" font-size="8.7" fill="#131722" font-weight="normal" text-anchor="middle">21</text>
<text x="425.26" y="439.3" font-size="8.7" fill="#131722" font-weight="normal" text-anchor="middle">23</text>
<text x="472.21" y="439.3" font-size="8.7" fill="#131722" font-weight="normal" text-anchor="middle">26</text>
<text x="527.7" y="439.3" font-size="8.7" fill="#131722" font-weight="normal" text-anchor="middle">29</text>
<text x="600.25" y="439.3" font-size="8.7" fill="#131722" font-weight="bold" text-anchor="middle" textLength="14.2" lengthAdjust="spacingAndGlyphs">Nov</text>
<text x="655.74" y="439.3" font-size="8.7" fill="#131722" font-weight="normal" text-anchor="middle">5</text>
<text x="706.95" y="439.3" font-size="8.7" fill="#131722" font-weight="normal" text-anchor="middle">7</text>
<g>
<circle cx="715.1" cy="398.7" r="7.35" fill="#fff" stroke="#f23645" stroke-width="1.25"/>
<clipPath id="u1"><circle cx="715.1" cy="398.7" r="5.8"/></clipPath>
<g clip-path="url(#u1)">
<rect x="709.1" y="392.7" width="12" height="12" fill="#fff"/>
<rect x="709.1" y="394" width="12" height="1.4" fill="#f1535d"/>
<rect x="709.1" y="397.65" width="12" height="2.05" fill="#f1535d"/>
<rect x="709.1" y="402.2" width="12" height="2.5" fill="#f1535d"/>
<rect x="709.1" y="392.7" width="7.3" height="7.3" fill="#4b97ee"/>
</g></g>
<g>
<circle cx="715.1" cy="416.6" r="7.35" fill="#fff" stroke="#f23645" stroke-width="1.25"/>
<clipPath id="c1"><circle cx="715.1" cy="416.6" r="5.8"/></clipPath>
<g clip-path="url(#c1)">
<rect x="709.1" y="410.6" width="12" height="12" fill="#f7f9fb"/>
<rect x="709.1" y="410.6" width="2.8" height="12" fill="#f1535d"/>
<rect x="718.3" y="410.6" width="2.8" height="12" fill="#f1535d"/>
<path d="M715.1 414.6 l2.1 1.9 l-1.1 0.5 l0.3 1.4 h-2.6 l0.3 -1.4 l-1.1 -0.5 z" fill="#f04450"/>
</g></g>
<g>
<circle cx="693.9" cy="416.6" r="7.35" fill="#fff" stroke="#f23645" stroke-width="1.25"/>
<clipPath id="c2"><circle cx="693.9" cy="416.6" r="5.8"/></clipPath>
<g clip-path="url(#c2)">
<rect x="687.9" y="410.6" width="12" height="12" fill="#f7f9fb"/>
<rect x="687.9" y="410.6" width="2.8" height="12" fill="#f1535d"/>
<rect x="697.1" y="410.6" width="2.8" height="12" fill="#f1535d"/>
<path d="M693.9 414.6 l2.1 1.9 l-1.1 0.5 l0.3 1.4 h-2.6 l0.3 -1.4 l-1.1 -0.5 z" fill="#f04450"/>
</g></g>
<circle cx="680.8" cy="416.6" r="6.9" fill="#fff" stroke="#9c27b0" stroke-width="1.1"/>
<path d="M684.0 412.9 L678.0 417.4 L681.1 417.3 L679.0 420.9 L684.8 415.9 L681.8 416.0 Z" fill="#a030c0" stroke="#a030c0" stroke-width="0.4" stroke-linejoin="round"/>
<g fill="#131722">
<path d="M8.75 461.8 h10.45 v8.5 h-5.2 v-4.5 h-5.25 z"/>
<circle cx="21.5" cy="463.8" r="1.85"/>
<path d="M24.3 461.8 h5.4 l-4.6 8.6 h-5.4 z"/>
</g>
<text x="35" y="475.6" font-size="19.6" fill="#131722" font-weight="bold" text-anchor="start" textLength="85.7" lengthAdjust="spacingAndGlyphs" stroke="#131722" stroke-width="0.35">TradingView</text>
</svg>
</body></html>
